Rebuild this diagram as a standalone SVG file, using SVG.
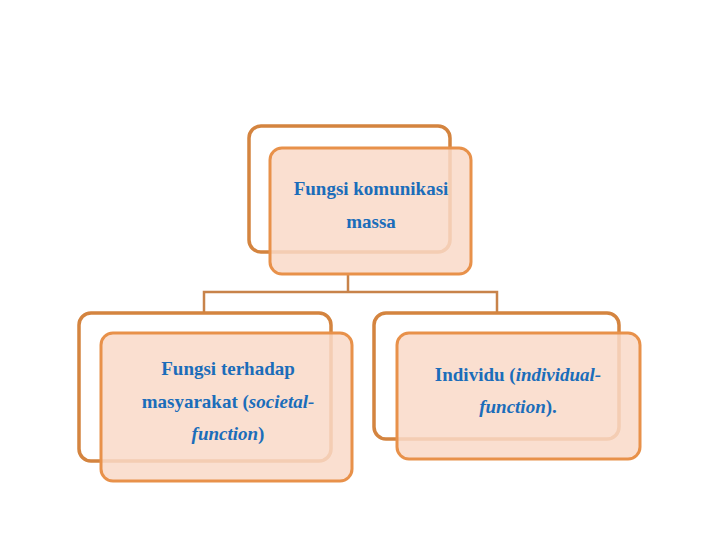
<svg xmlns="http://www.w3.org/2000/svg" width="720" height="540" viewBox="0 0 720 540">
<style>
.back{fill:#ffffff;stroke:#D4843F;stroke-width:3.5}
.front{fill:#F9D9C8;fill-opacity:0.85;stroke:#E8914A;stroke-width:3}
.conn{fill:none;stroke:#C8834A;stroke-width:2.5}
.t{font-family:"Liberation Serif",serif;font-size:19px;font-weight:bold;fill:#1B6DBA;text-anchor:middle}
.i{font-style:italic}
</style>
<rect width="720" height="540" fill="#ffffff"/>
<g id="connectors">
<path class="conn" d="M348,275 V292 M204,312 V292 H497 V312"/>
</g>
<g id="node-top">
<rect class="back" x="249" y="126" width="201" height="126" rx="12"/>
<rect class="front" x="270" y="148" width="201" height="126" rx="12"/>
<text class="t" x="371" y="195">Fungsi komunikasi</text>
<text class="t" x="371" y="228">massa</text>
</g>
<g id="node-left">
<rect class="back" x="79" y="313" width="252" height="148" rx="12"/>
<rect class="front" x="101" y="333" width="251" height="148" rx="12"/>
<text class="t" x="228" y="375">Fungsi terhadap</text>
<text class="t" x="228" y="408">masyarakat (<tspan class="i">societal-</tspan></text>
<text class="t" x="228" y="440"><tspan class="i">function</tspan>)</text>
</g>
<g id="node-right">
<rect class="back" x="374" y="313" width="245" height="126" rx="12"/>
<rect class="front" x="397" y="333" width="243" height="126" rx="12"/>
<text class="t" x="518" y="381">Individu (<tspan class="i">individual-</tspan></text>
<text class="t" x="518" y="413"><tspan class="i">function</tspan>).</text>
</g>
</svg>
